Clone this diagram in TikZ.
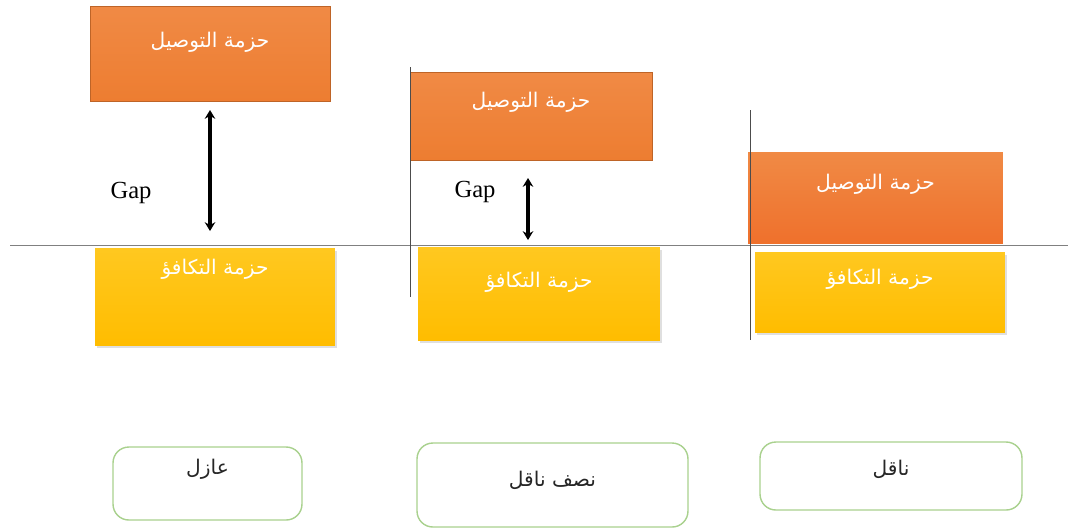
\documentclass[tikz,border=0pt]{standalone}
\usepackage{fontspec}
\usepackage{tikz}
\usetikzlibrary{arrows.meta}
\setmainfont{Liberation Serif}
\newfontfamily\arabicfont[Script=Arabic]{DejaVu Sans}
\TeXXeTstate=1
\definecolor{condorange}{HTML}{ED7D31}
\definecolor{condtop}{HTML}{F08A45}
\definecolor{valyellow}{HTML}{FFC000}
\definecolor{valtop}{HTML}{FFC820}
\definecolor{kindgreen}{HTML}{A9D18E}
\definecolor{axisgray}{HTML}{808080}
\tikzset{
  cband/.style={draw=condorange!80!black, line width=0.4pt, top color=condtop, bottom color=condorange, inner sep=0pt},
  vband/.style={draw=none, top color=valtop, bottom color=valyellow!95!orange, inner sep=0pt,
    drop shadow={opacity=0.25, shadow xshift=1pt, shadow yshift=-1.5pt}},
  bandtext/.style={text=white, font=\arabicfont\fontsize{11.5}{13}\selectfont},
  kindbox/.style={draw=kindgreen, line width=0.8pt, rounded corners=9pt, fill=white, inner sep=0pt},
  kindtext/.style={text=black!85, font=\arabicfont\fontsize{11.5}{13}\selectfont},
  gaparrow/.style={<->, line width=2pt, >={Stealth[length=5pt, width=6pt]}},
  gaptext/.style={font=\fontsize{14}{16}\selectfont}
}
\usetikzlibrary{shadows}
\begin{document}
\begin{tikzpicture}[x=0.02cm, y=-0.02cm]
\useasboundingbox (0,0) rectangle (1068,529);
% Fermi level line and column markers
\coordinate (lineL) at (10,245.5);
\coordinate (lineR) at (1068,245.5);
\draw[axisgray, line width=0.6pt] (lineL) -- (lineR);
\coordinate (mark2t) at (410,67);
\coordinate (mark2b) at (410,297);
\coordinate (mark3t) at (750,110);
\coordinate (mark3b) at (750,340);
% insulator
\node[vband, minimum width=4.8cm, minimum height=1.94cm] (vb1) at (215,296.5) {};
\node[cband, minimum width=4.8cm, minimum height=1.9cm] (cb1) at (210,53.5) {};
\node[bandtext] (cbt1) at ([yshift=-0.74cm]cb1.north) {\beginR حزمة التوصيل\endR};
\node[bandtext] (vbt1) at ([yshift=-0.44cm]vb1.north) {\beginR حزمة التكافؤ\endR};
\coordinate (gap1t) at (210,110);
\coordinate (gap1b) at (210,231);
\draw[gaparrow] (gap1t) -- (gap1b);
\node[gaptext] (gap1) at (131,193) {Gap};
% semiconductor
\node[vband, minimum width=4.84cm, minimum height=1.86cm] (vb2) at (539,293.5) {};
\node[cband, minimum width=4.84cm, minimum height=1.76cm] (cb2) at (531,116) {};
\node[bandtext] (cbt2) at ([yshift=-0.62cm]cb2.north) {\beginR حزمة التوصيل\endR};
\node[bandtext] (vbt2) at ([yshift=-0.72cm]vb2.north) {\beginR حزمة التكافؤ\endR};
\coordinate (gap2t) at (528,178);
\coordinate (gap2b) at (528,240);
\draw[gaparrow] (gap2t) -- (gap2b);
\node[gaptext] (gap2) at (475,192) {Gap};
\draw[black!70, line width=0.5pt] (mark2t) -- (mark2b);
% conductor
\node[vband, minimum width=5cm, minimum height=1.6cm] (vb3) at (880,292) {};
\node[cband, draw=none, top color=condtop, bottom color=condorange!90!red, minimum width=5.1cm, minimum height=1.82cm] (cb3) at (875.5,197.5) {};
\node[bandtext] (cbt3) at ([yshift=-0.66cm]cb3.north) {\beginR حزمة التوصيل\endR};
\node[bandtext] (vbt3) at ([yshift=-0.56cm]vb3.north) {\beginR حزمة التكافؤ\endR};
\draw[black!70, line width=0.5pt] (mark3t) -- (mark3b);
% material kinds
\node[kindbox, minimum width=3.78cm, minimum height=1.46cm] (kind1) at (207.5,483.5) {};
\node[kindbox, minimum width=5.42cm, minimum height=1.68cm] (kind2) at (552.5,485) {};
\node[kindbox, minimum width=5.24cm, minimum height=1.36cm] (kind3) at (891,476) {};
\node[kindtext] (kt1) at ([yshift=-0.46cm]kind1.north) {\beginR عازل\endR};
\node[kindtext] (kt2) at ([yshift=-0.76cm]kind2.north) {\beginR نصف ناقل\endR};
\node[kindtext] (kt3) at ([yshift=-0.56cm]kind3.north) {\beginR ناقل\endR};
\end{tikzpicture}
\end{document}
